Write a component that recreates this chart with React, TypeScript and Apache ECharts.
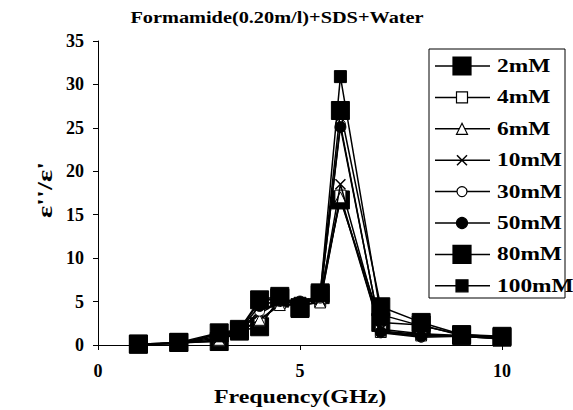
import React, { useEffect, useRef } from "react";
import * as echarts from "echarts";

const freq = [1, 2, 3, 3.5, 4, 4.5, 5, 5.5, 6, 7, 8, 9, 10];
const names = ["2mM", "4mM", "6mM", "10mM", "30mM", "50mM", "80mM", "100mM"];
const s2 = [0.1, 0.3, 0.4, 1.6, 2.1, 5.4, 4.3, 5.8, 16.7, 2.6, 2.3, 1.1, 0.9];
const s4 = [0.1, 0.2, 0.5, 1.6, 2.8, 4.8, 4.5, 5.0, 17.2, 1.6, 1.2, 1.0, 0.8];
const s6 = [0.1, 0.2, 0.6, 1.6, 2.9, 4.6, 4.6, 4.9, 17.0, 1.5, 1.1, 1.0, 0.7];
const s10 = [0.1, 0.2, 0.8, 1.7, 3.6, 5.0, 4.8, 5.2, 18.5, 1.8, 1.3, 1.1, 0.8];
const s30 = [0.1, 0.2, 1.0, 1.7, 3.9, 5.0, 4.9, 5.4, 25.4, 1.4, 0.9, 1.0, 0.7];
const s50 = [0.1, 0.2, 1.2, 1.7, 4.5, 5.2, 5.0, 5.6, 25.1, 1.5, 1.0, 1.1, 0.8];
const s80 = [0.1, 0.3, 1.4, 1.8, 5.2, 5.6, 4.2, 6.0, 27.0, 4.4, 2.6, 1.2, 1.0];
const s100 = [0.1, 0.2, 1.3, 1.7, 5.0, 5.4, 4.8, 5.8, 30.9, 3.5, 2.2, 1.2, 0.9];
const seriesValues = [s2, s4, s6, s10, s30, s50, s80, s100];
const xTicks = [0, 5, 10];
const yTicks = [0, 5, 10, 15, 20, 25, 30, 35];
const titleText = "Formamide(0.20m/l)+SDS+Water";
const xTitle = "Frequency(GHz)";
const yTitle = "ε''/ε'";

const FONT = "'Liberation Serif', 'Times New Roman', serif";

type Marker = { kind: string; size: number; filled: boolean };
const markers: Marker[] = [
  { kind: "rect", size: 18, filled: true },
  { kind: "rect", size: 11, filled: false },
  { kind: "triangle", size: 11, filled: false },
  { kind: "cross", size: 10, filled: false },
  { kind: "circle", size: 10, filled: false },
  { kind: "circle", size: 11, filled: true },
  { kind: "rect", size: 18, filled: true },
  { kind: "rect", size: 12, filled: true },
];

function legendMarker(m: Marker, cx: number, cy: number): any[] {
  const fill = m.filled ? "#000" : "#fff";
  const s = m.size;
  const st = { fill, stroke: "#000", lineWidth: 1.2 };
  if (m.kind === "rect")
    return [{ type: "rect", shape: { x: cx - s / 2, y: cy - s / 2, width: s, height: s }, style: st }];
  if (m.kind === "circle")
    return [{ type: "circle", shape: { cx, cy, r: s / 2 }, style: st }];
  if (m.kind === "triangle")
    return [{
      type: "polygon",
      shape: { points: [[cx, cy - s / 2], [cx + s / 2, cy + s / 2], [cx - s / 2, cy + s / 2]] },
      style: st,
    }];
  const h = s / 2;
  return [
    { type: "line", shape: { x1: cx - h, y1: cy - h, x2: cx + h, y2: cy + h }, style: { stroke: "#000", lineWidth: 1.5 } },
    { type: "line", shape: { x1: cx - h, y1: cy + h, x2: cx + h, y2: cy - h }, style: { stroke: "#000", lineWidth: 1.5 } },
  ];
}

export default function App() {
  const ref = useRef<HTMLDivElement>(null);
  useEffect(() => {
    if (!ref.current) return;
    const chart = echarts.init(ref.current, null, { renderer: "svg" });

    const series = names.map((name, i) => {
      const m = markers[i];
      const symbol =
        m.kind === "cross" ? "path://M0,0L10,10M10,0L0,10" : m.kind === "rect" ? "rect" : m.kind;
      return {
        name,
        type: "line",
        data: freq.map((f, j) => [f, seriesValues[i][j]]),
        symbol,
        symbolSize: m.size,
        showAllSymbol: true,
        lineStyle: { color: "#000", width: 1.5 },
        itemStyle: {
          color: m.filled || m.kind === "cross" ? "#000" : "#fff",
          borderColor: "#000",
          borderWidth: m.kind === "cross" ? 1.5 : 1,
        },
        emphasis: { disabled: true },
        z: 2 + i,
      };
    });

    const legendX = 429;
    const legendY = 49;
    const rowH = 31.4;
    const graphics: any[] = [
      {
        type: "text",
        x: 277,
        y: 18,
        scaleX: 1.27,
        style: {
          text: titleText,
          fill: "#000",
          font: `bold 16px ${FONT}`,
          align: "center",
          verticalAlign: "middle",
        },
      },
      {
        type: "text",
        x: 300,
        y: 397,
        scaleX: 1.33,
        style: {
          text: xTitle,
          fill: "#000",
          font: `bold 18px ${FONT}`,
          align: "center",
          verticalAlign: "middle",
        },
      },
      {
        type: "text",
        x: 45,
        y: 190,
        rotation: Math.PI / 2,
        scaleX: 1.3,
        style: {
          text: yTitle,
          fill: "#000",
          font: `bold 22px ${FONT}`,
          align: "center",
          verticalAlign: "middle",
        },
      },
      {
        type: "rect",
        shape: { x: legendX, y: legendY, width: 136, height: 249 },
        style: { fill: "#fff", stroke: "#000", lineWidth: 1 },
      },
    ];
    names.forEach((name, i) => {
      const cy = legendY + 17 + i * rowH;
      graphics.push({
        type: "line",
        shape: { x1: legendX + 6, y1: cy, x2: legendX + 61, y2: cy },
        style: { stroke: "#000", lineWidth: 1.5 },
      });
      graphics.push(...legendMarker(markers[i], legendX + 33, cy));
      graphics.push({
        type: "text",
        x: legendX + 68,
        y: cy,
        scaleX: 1.3,
        style: {
          text: name,
          fill: "#000",
          font: `bold 18px ${FONT}`,
          verticalAlign: "middle",
          align: "left",
        },
      });
    });

    chart.setOption({
      animation: false,
      backgroundColor: "#fff",
      grid: { left: 98, right: 71, top: 41, bottom: 65, containLabel: false },
      xAxis: {
        type: "value",
        min: xTicks[0],
        max: xTicks[xTicks.length - 1],
        interval: xTicks[1] - xTicks[0],
        axisLine: { show: true, lineStyle: { color: "#000", width: 1 } },
        axisTick: { show: true, length: 5, lineStyle: { color: "#000" } },
        axisLabel: { fontFamily: FONT, fontWeight: "bold", fontSize: 18, color: "#000", margin: 17 },
        splitLine: { show: false },
      },
      yAxis: {
        type: "value",
        min: yTicks[0],
        max: yTicks[yTicks.length - 1],
        interval: yTicks[1] - yTicks[0],
        axisLine: { show: true, lineStyle: { color: "#000", width: 1 } },
        axisTick: { show: true, length: 5, lineStyle: { color: "#000" } },
        axisLabel: { fontFamily: FONT, fontWeight: "bold", fontSize: 18, color: "#000", margin: 14 },
        splitLine: { show: false },
      },
      graphic: graphics,
      series,
    });
    return () => chart.dispose();
  }, []);
  return <div ref={ref} style={{ width: 573, height: 410, position: "absolute", left: 0, top: 0 }} />;
}
